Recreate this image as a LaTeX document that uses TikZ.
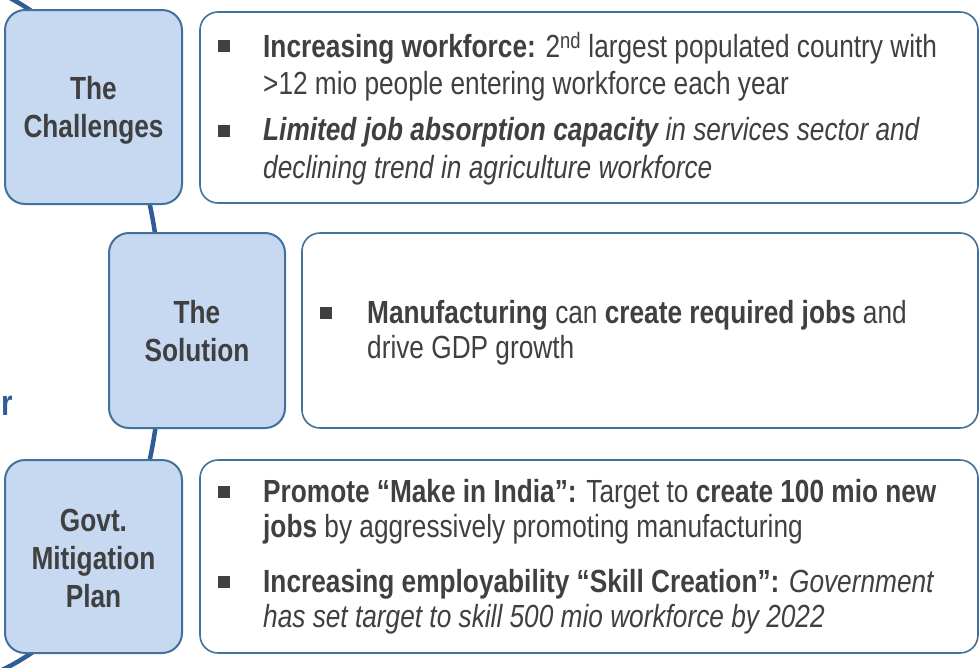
\documentclass[tikz,border=0pt]{standalone}
\usepackage{fontspec}
\setmainfont{Liberation Sans}[FakeStretch=0.82]
\definecolor{spineblue}{HTML}{2F5D96}
\definecolor{boxline}{HTML}{41719C}
\definecolor{boxfill}{HTML}{C6D9F1}
\definecolor{txtgray}{HTML}{404040}

\begin{document}
\begin{tikzpicture}
    [x=1pt,y=-1pt,
    stage/.style={rectangle,rounded corners=20pt,draw=boxline,line width=2pt,fill=boxfill,inner sep=0pt},
    stagelbl/.style={text=txtgray,font=\fontsize{32}{38}\selectfont\bfseries,align=center,inner sep=0pt},
    panel/.style={rectangle,rounded corners=18pt,draw=boxline,line width=1.6pt,fill=white,inner sep=0pt},
    point/.style={anchor=west,text=txtgray,align=left,inner sep=0pt,font=\fontsize{32}{37.5}\selectfont},
    bullet/.style={rectangle,fill=txtgray,minimum size=12pt,inner sep=0pt},
    spine/.style={draw=spineblue,line width=4.5pt}]

    \useasboundingbox (0,0) rectangle (980,667);
    \clip (0,0) rectangle (980,667);

    % curved spine behind the stages
    \coordinate (top) at (-2,-8);
    \coordinate (mid) at (162,332);
    \coordinate (bot) at (-2,672);
    \draw[spine] (top) .. controls (100,40) and (162,150) .. (mid)
                       .. controls (162,514) and (100,624) .. (bot);

    \node[anchor=base east,text=spineblue,font=\fontsize{36}{40}\selectfont\bfseries,inner sep=0pt] (cut) at (13,415) {r};

    \node[stage,minimum width=177pt,minimum height=194pt] (chal) at (93.5,107) {};
    \node[stage,minimum width=176pt,minimum height=195pt] (sol) at (197,330.5) {};
    \node[stage,minimum width=177pt,minimum height=193pt] (govt) at (93.5,556.5) {};
    \node[stagelbl] (chall) at ([yshift=-3pt]chal.center) {The\\Challenges};
    \node[stagelbl] (soll) at ([yshift=-1pt]sol.center) {The\\Solution};
    \node[stagelbl] (govtl) at ([yshift=-2pt]govt.center) {Govt.\\Mitigation\\Plan};

    \node[panel,minimum width=778pt,minimum height=191pt] (chalp) at (589,107.5) {};
    \node[panel,minimum width=676pt,minimum height=195pt] (solp) at (640,330.5) {};
    \node[panel,minimum width=778pt,minimum height=193pt] (govtp) at (589,556.5) {};

    % bullets and texts
    \node[bullet] (b1) at (223.5,46) {};
    \node[point] (t1) at (263,66.5) {\textbf{Increasing workforce:} 2\textsuperscript{nd} largest populated country with\\>12 mio people entering workforce each year};
    \node[bullet] (b2) at (223.5,131) {};
    \node[point] (t2) at (263,151) {\textit{\textbf{Limited job absorption capacity} in services sector and}\\\textit{declining trend in agriculture workforce}};

    \node[bullet] (b3) at (325.5,313) {};
    \node[point,font=\fontsize{32}{35}\selectfont] (t3) at (367,332.5) {\textbf{Manufacturing} can \textbf{create required jobs} and\\drive GDP growth};

    \node[bullet] (b4) at (223.5,492) {};
    \node[point,font=\fontsize{32}{35}\selectfont] (t4) at (263,511.5) {\textbf{Promote “Make in India”:} Target to \textbf{create 100 mio new}\\\textbf{jobs} by aggressively promoting manufacturing};
    \node[bullet] (b5) at (223.5,582) {};
    \node[point,font=\fontsize{32}{35}\selectfont] (t5) at (263,601.5) {\textbf{Increasing employability “Skill Creation”:} \textit{Government}\\\textit{has set target to skill 500 mio workforce by 2022}};
\end{tikzpicture}
\end{document}
